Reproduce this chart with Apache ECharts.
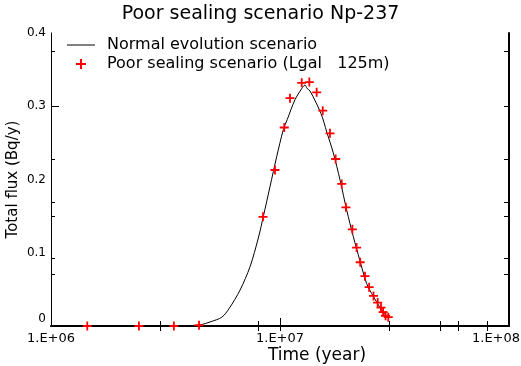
<!DOCTYPE html>
<html>
<head>
<meta charset="utf-8">
<script src="https://cdn.jsdelivr.net/npm/echarts@6/dist/echarts.min.js"></script>
<style>html,body{margin:0;padding:0;background:#fff;}#c{width:521px;height:366px;}</style>
</head>
<body>
<div id="c"></div>
<script>
// Normal evolution scenario (black line): [time in years, flux Bq/y]
var normalTimes = [3.93e6, 4.47e6, 5.0e6, 5.57e6, 6.0e6, 6.69e6, 7.40e6, 8.04e6, 8.45e6, 9.04e6, 9.67e6,
  1.034e7, 1.076e7, 1.163e7, 1.244e7, 1.285e7, 1.316e7, 1.352e7, 1.51e7, 1.60e7, 1.71e7,
  1.83e7, 1.956e7, 2.09e7, 2.23e7, 2.39e7, 2.56e7, 2.78e7, 2.97e7];
var normalValues = [0, 0.0014, 0.006, 0.012, 0.024, 0.049, 0.081, 0.120, 0.149, 0.190, 0.231,
  0.268, 0.282, 0.309, 0.324, 0.329, 0.324, 0.321, 0.290, 0.265, 0.236,
  0.199, 0.158, 0.122, 0.090, 0.058, 0.040, 0.022, 0.0105];
// Poor sealing scenario (red markers)
var poorTimes = [1.44e6, 2.42e6, 3.44e6, 4.43e6, 8.43e6, 9.51e6, 1.044e7, 1.106e7, 1.244e7, 1.343e7,
  1.446e7, 1.537e7, 1.653e7, 1.75e7, 1.86e7, 1.94e7, 2.07e7, 2.16e7, 2.24e7, 2.35e7,
  2.45e7, 2.56e7, 2.67e7, 2.76e7, 2.82e7, 2.89e7, 2.97e7];
var poorValues = [0, 0, 0, 0.001, 0.149, 0.213, 0.271, 0.311, 0.332, 0.333,
  0.319, 0.294, 0.263, 0.228, 0.194, 0.162, 0.132, 0.107, 0.087, 0.068,
  0.053, 0.041, 0.032, 0.025, 0.019, 0.014, 0.012];
var yTickLabels = [0, 0.1, 0.2, 0.3, 0.4];
var xMinorTicks = [3e6, 8e6, 3e7, 5e7, 6e7, 8e7];
var yMinorTicks = [0.071, 0.093, 0.15, 0.169, 0.227, 0.375];

var FONT = 'DejaVu Sans';
var PLUS = 'path://M4,0H6V4H10V6H6V10H4V6H0V4H4Z';
var LINE_ICON = 'path://M0,0H28V1H0Z';

function zip(a, b) { return a.map(function (v, i) { return [v, b[i]]; }); }

function xLabel(v) {
  var e = Math.round(Math.log10(v));
  var s = '1.E+' + (e < 10 ? '0' : '') + e;
  if (e === 8) return '{m|' + s + '}';
  return s;
}
function yLabel(v) {
  if (v === 0) return '{z|0}';
  return String(Math.round(v * 10) / 10);
}

var baseX = {type: 'log', logBase: 10, min: 1e6, max: 1e8, splitLine: {show: false}};
var baseY = {type: 'value', min: 0, max: 0.4, interval: 0.1, splitLine: {show: false}};

var chart = echarts.init(document.getElementById('c'), null, {renderer: 'canvas'});
chart.setOption({
  animation: false,
  backgroundColor: '#fff',
  title: {
    text: 'Poor sealing scenario Np-237', left: 'center', top: 0,
    textStyle: {fontFamily: FONT, fontSize: 19, fontWeight: 'normal', color: '#000'}
  },
  grid: {left: 51, right: 12, top: 33, bottom: 40, containLabel: false, outerBoundsMode: 'none'},
  legend: {
    orient: 'vertical', left: 62, top: 32, itemWidth: 28, itemHeight: 10, itemGap: 3,
    textStyle: {fontFamily: FONT, fontSize: 16, color: '#000', padding: [0, 0, 0, 7]},
    data: [
      {name: 'Normal evolution scenario', icon: LINE_ICON, itemStyle: {color: '#000'}},
      {name: 'Poor sealing scenario (Lgal   125m)', icon: PLUS, itemStyle: {color: '#ff0000', opacity: 1}}
    ]
  },
  xAxis: [
    Object.assign({}, baseX, {
      position: 'bottom',
      name: 'Time (year)', nameLocation: 'middle', nameGap: 21, nameMoveOverlap: false,
      nameTextStyle: {fontFamily: FONT, fontSize: 17, color: '#000', padding: [0, 0, 0, 74]},
      axisLine: {lineStyle: {color: '#000', width: 2}},
      axisTick: {inside: true, length: 8, lineStyle: {color: '#000'}, customValues: [1e7]},
      axisLabel: {fontFamily: FONT, fontSize: 13, color: '#000', margin: 6, formatter: xLabel,
        rich: {m: {fontFamily: FONT, fontSize: 13, color: '#000', padding: [0, 26, 0, 0]}}}
    }),
    Object.assign({}, baseX, {
      position: 'bottom',
      axisLine: {show: false},
      axisTick: {inside: true, length: 5, lineStyle: {color: '#000'}, customValues: xMinorTicks},
      axisLabel: {show: false}
    }),
    Object.assign({}, baseX, {
      position: 'top',
      axisLine: {lineStyle: {color: '#000', width: 1}},
      axisTick: {inside: true, length: 5, lineStyle: {color: '#000'}, customValues: [1e7].concat(xMinorTicks)},
      axisLabel: {show: false}
    })
  ],
  yAxis: [
    Object.assign({}, baseY, {
      position: 'left',
      name: 'Total flux (Bq/y)', nameLocation: 'middle', nameGap: 30, nameMoveOverlap: false,
      nameTextStyle: {fontFamily: FONT, fontSize: 15, color: '#000'},
      axisLine: {lineStyle: {color: '#000', width: 1}},
      axisTick: {inside: true, length: 8, lineStyle: {color: '#000'}, customValues: [0.3]},
      axisLabel: {fontFamily: FONT, fontSize: 12, color: '#000', margin: 5, customValues: yTickLabels,
        formatter: yLabel,
        rich: {z: {fontFamily: FONT, fontSize: 12, color: '#000', padding: [0, 0, 14, 0]}}}
    }),
    Object.assign({}, baseY, {
      position: 'left',
      axisLine: {show: false},
      axisTick: {inside: true, length: 4, lineStyle: {color: '#000'}, customValues: yMinorTicks},
      axisLabel: {show: false}
    }),
    Object.assign({}, baseY, {
      position: 'right',
      axisLine: {lineStyle: {color: '#000', width: 2}},
      axisTick: {inside: true, length: 5, lineStyle: {color: '#000'}, customValues: [0.3].concat(yMinorTicks)},
      axisLabel: {show: false}
    })
  ],
  series: [
    {
      name: 'Normal evolution scenario', type: 'line', xAxisIndex: 0, yAxisIndex: 0,
      data: zip(normalTimes, normalValues), symbol: 'none', smooth: 0.3,
      lineStyle: {color: '#000', width: 1}, itemStyle: {color: '#000'}, z: 2
    },
    {
      name: 'Poor sealing scenario (Lgal   125m)', type: 'scatter', xAxisIndex: 0, yAxisIndex: 0,
      data: zip(poorTimes, poorValues), symbol: PLUS, symbolSize: 9,
      itemStyle: {color: '#ff0000', opacity: 1}, z: 3
    }
  ]
});
</script>
</body>
</html>
